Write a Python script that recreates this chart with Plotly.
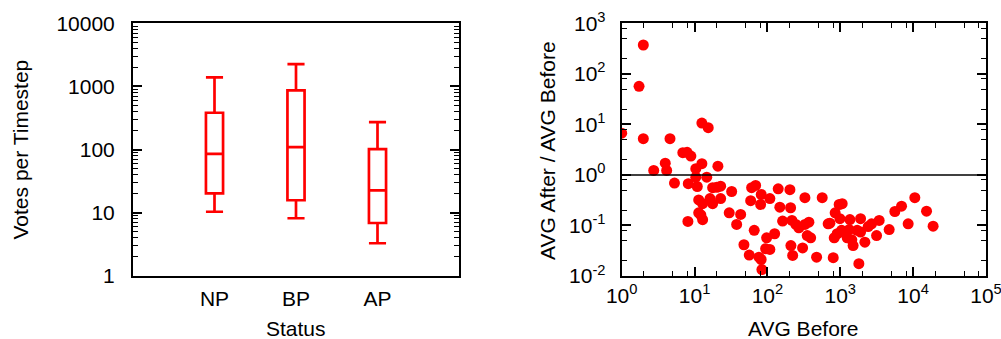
import plotly.graph_objects as go

# ---- Left panel: box summary per status ----
status = ["NP", "BP", "AP"]
status_pos = [1, 2, 3]
lower_whisker = [10.4, 8.2, 3.3]
q1_vals = [20.3, 15.8, 6.9]
median_vals = [86, 110, 22.7]
q3_vals = [384, 867, 102]
upper_whisker = [1393, 2262, 273]

left_ytick_vals = [1, 10, 100, 1000, 10000]
left_ytick_text = ["1", "10", "100", "1000", "10000"]

# ---- Right panel: scatter AVG Before vs ratio ----
avg_before = [1.0, 1.73, 1.98, 1.98, 4.6, 12.6, 15.4, 6.9, 7.9, 8.9,
              3.96, 2.75, 4.14, 10.4, 12.6, 20.9, 10.4, 14.7, 5.3, 8.2,
              10.9, 17.7, 20.2, 22.8, 32.3, 60.7, 68.9, 82.2, 140.6, 203.6,
              327, 565, 11.4, 12.9, 16.3, 17.7, 22.8, 58.9, 80.7, 108,
              148, 208, 11.4, 12.9, 8.1, 12.2, 29.9, 42.9, 37.8, 65.9,
              47.6, 56.3, 76.4, 82, 84, 97.5, 94.5, 108, 125.6, 161.5,
              217, 210, 222, 246, 270, 304, 327, 371, 352, 392,
              473, 682, 720, 800, 851, 966, 1062, 988, 826, 906,
              1042, 1097, 1244, 1325, 1355, 1440, 1500, 1705, 1898, 1898,
              1799, 2175, 2414, 2688, 3418, 3148, 4690, 5610, 6930, 8540,
              10550, 15270, 18800]
ratio = [6.7, 56.5, 372, 5.2, 5.2, 10.6, 8.6, 2.75, 2.8, 2.36,
         1.71, 1.23, 1.23, 1.33, 1.67, 1.49, 0.90, 0.90, 0.69, 0.67,
         0.59, 0.56, 0.57, 0.60, 0.47, 0.56, 0.62, 0.41, 0.53, 0.51,
         0.354, 0.354, 0.32, 0.27, 0.34, 0.27, 0.34, 0.31, 0.26, 0.34,
         0.23, 0.224, 0.178, 0.13, 0.12, 0.161, 0.178, 0.165, 0.105, 0.080,
         0.0415, 0.026, 0.0236, 0.0212, 0.0134, 0.057, 0.0346, 0.0335, 0.0685, 0.122,
         0.126, 0.040, 0.0255, 0.105, 0.090, 0.036, 0.105, 0.116, 0.063, 0.057,
         0.0236, 0.108, 0.111, 0.023, 0.178, 0.26, 0.27, 0.136, 0.057, 0.0685,
         0.080, 0.074, 0.057, 0.083, 0.131, 0.052, 0.040, 0.080, 0.074, 0.136,
         0.0175, 0.0467, 0.095, 0.108, 0.126, 0.063, 0.083, 0.189, 0.241, 0.108,
         0.354, 0.192, 0.097]

right_xtick_vals = [1, 10, 100, 1000, 10000, 100000]
right_xtick_text = ["10<sup>0</sup>", "10<sup>1</sup>", "10<sup>2</sup>",
                    "10<sup>3</sup>", "10<sup>4</sup>", "10<sup>5</sup>"]
right_ytick_vals = [0.01, 0.1, 1, 10, 100, 1000]
right_ytick_text = ["10<sup>-2</sup>", "10<sup>-1</sup>", "10<sup>0</sup>",
                    "10<sup>1</sup>", "10<sup>2</sup>", "10<sup>3</sup>"]
minor_steps = [2, 5, 8]
right_minor_x = [m * d for d in [1, 10, 100, 1000, 10000] for m in minor_steps]
right_minor_y = [m * d for d in [0.01, 0.1, 1, 10, 100] for m in minor_steps]
reference_ratio = 1

FONT = "Liberation Sans, Arial, Helvetica, sans-serif"
FS = 21
RED = "#ff0000"

fig = go.Figure()

fig.add_trace(go.Box(
    x=status_pos, q1=q1_vals, median=median_vals, q3=q3_vals,
    lowerfence=lower_whisker, upperfence=upper_whisker,
    width=0.21, whiskerwidth=1, boxpoints=False,
    line=dict(color=RED, width=2.7), fillcolor="rgba(0,0,0,0)",
    xaxis="x", yaxis="y", showlegend=False, hoverinfo="skip",
))

fig.add_trace(go.Scatter(
    x=avg_before, y=ratio, mode="markers",
    marker=dict(color=RED, size=11, line=dict(width=0)),
    xaxis="x2", yaxis="y2", showlegend=False,
))

common_axis = dict(
    showline=True, linecolor="black", linewidth=2, mirror="allticks",
    showgrid=False, zeroline=False, tickcolor="black",
    tickwidth=1.5, ticklen=9, automargin=False, ticklabeloverflow="allow",
    tickfont=dict(family=FONT, size=FS, color="black"),
)
minor_style = dict(ticks="inside", ticklen=5, tickcolor="black", tickwidth=1.2)

ydom = [1 - 276 / 339, 1 - 23.3 / 339]

fig.update_layout(
    width=1001, height=339,
    margin=dict(l=0, r=0, t=0, b=0),
    paper_bgcolor="white", plot_bgcolor="white",
    font=dict(family=FONT, size=FS, color="black"),
    xaxis=dict(domain=[133 / 1001, 459 / 1001], range=[0, 4],
               tickvals=status_pos, ticktext=status, ticks="",
               ticklabelstandoff=3, **common_axis),
    yaxis=dict(domain=ydom, type="log", range=[0, 4], ticks="inside",
               tickvals=left_ytick_vals, ticktext=left_ytick_text,
               ticklabelstandoff=12,
               minor=dict(dtick="D1", **minor_style),
               **common_axis),
    xaxis2=dict(domain=[621.7 / 1001, 986 / 1001], type="log", range=[0, 5],
                anchor="y2", tickvals=right_xtick_vals, ticktext=right_xtick_text,
                ticklabelstandoff=0, ticks="inside",
                minor=dict(tickvals=right_minor_x, **minor_style),
                **common_axis),
    yaxis2=dict(domain=ydom, type="log", range=[-2, 3], anchor="x2",
                tickvals=right_ytick_vals, ticktext=right_ytick_text,
                ticklabelstandoff=10, ticks="inside",
                minor=dict(tickvals=right_minor_y, **minor_style),
                **common_axis),
    shapes=[dict(type="line", xref="x2 domain", yref="y2", x0=0, x1=1,
                 y0=reference_ratio, y1=reference_ratio,
                 line=dict(color="black", width=1.5))],
    annotations=[
        dict(text="Votes per Timestep", xref="paper", yref="paper",
             x=20 / 1001, y=1 - 149.5 / 339, textangle=-90, showarrow=False,
             xanchor="center", yanchor="middle"),
        dict(text="Status", xref="paper", yref="paper",
             x=296 / 1001, y=1 - 328 / 339, showarrow=False,
             xanchor="center", yanchor="middle"),
        dict(text="AVG After / AVG Before", xref="paper", yref="paper",
             x=548 / 1001, y=1 - 151 / 339, textangle=-90, showarrow=False,
             xanchor="center", yanchor="middle"),
        dict(text="AVG Before", xref="paper", yref="paper",
             x=803.5 / 1001, y=1 - 328 / 339, showarrow=False,
             xanchor="center", yanchor="middle"),
    ],
)

fig.write_html("out.html", config={"displayModeBar": False},
               post_script="document.body.style.margin='0';document.body.style.padding='0';")
